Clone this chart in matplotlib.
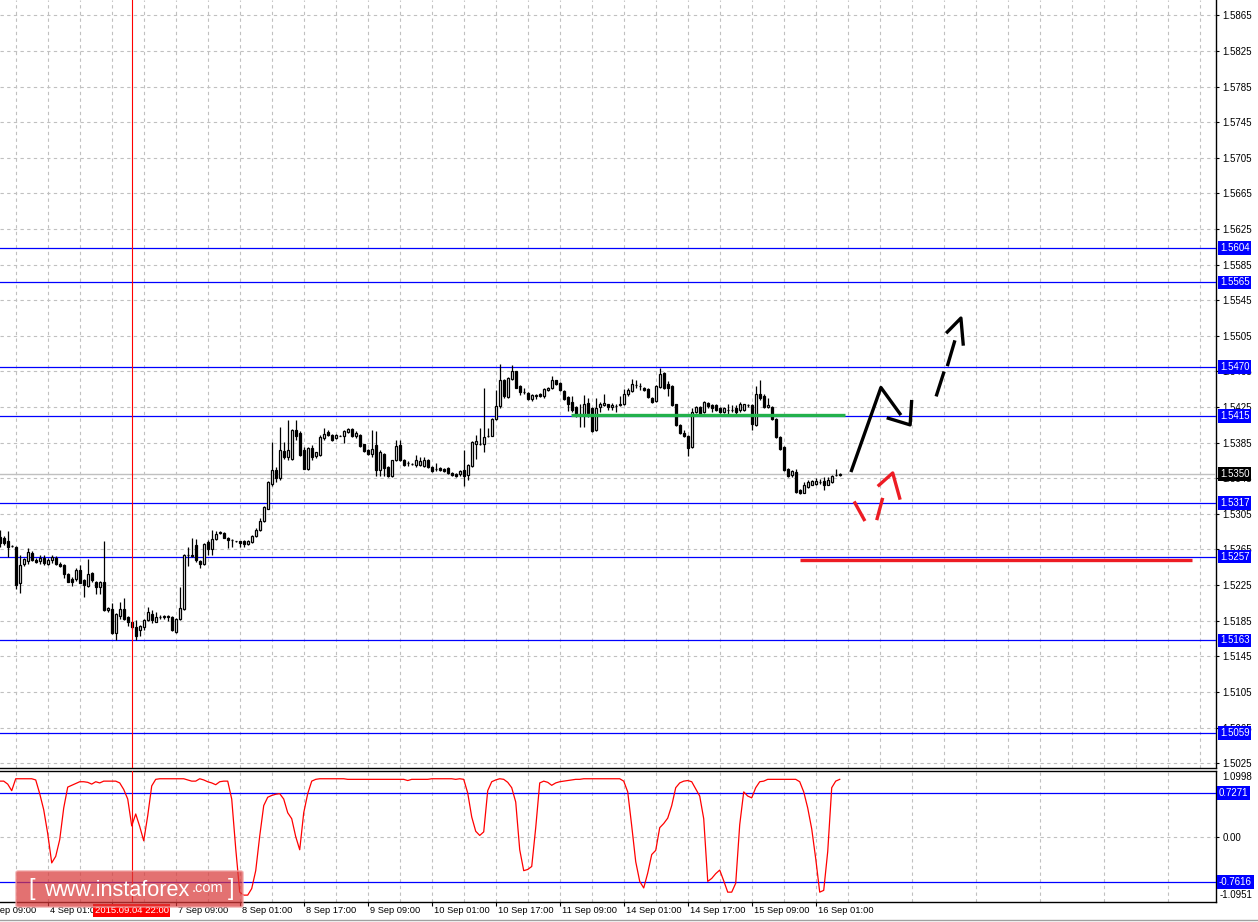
import matplotlib
matplotlib.use("Agg")
import matplotlib.pyplot as plt
from matplotlib.patches import FancyBboxPatch
import numpy as np

plt.rcParams['font.family'] = ['Liberation Sans', 'DejaVu Sans']

# ---------------- data (H1 bars, index 0 = 4 Sep 01:00) ----------------
FIRST_BAR = -12

opens = [
    1.5279, 1.5278, 1.5274, 1.5269, 1.5268, 1.5227, 1.5249, 1.5252, 1.5261, 1.5253,
    1.5252, 1.5255, 1.5249, 1.5253, 1.5256, 1.5249, 1.5248, 1.5238, 1.5232, 1.5232,
    1.5242, 1.5231, 1.5224, 1.5239, 1.5229, 1.5223, 1.5229, 1.5197, 1.5198, 1.5171,
    1.5190, 1.5198, 1.5189, 1.5184, 1.5178, 1.5175, 1.5178, 1.5186, 1.5193, 1.5184,
    1.5189, 1.5189, 1.5190, 1.5189, 1.5172, 1.5187, 1.5198, 1.5259, 1.5259, 1.5270,
    1.5252, 1.5249, 1.5273, 1.5265, 1.5277, 1.5283, 1.5284, 1.5278, 1.5276, 1.5274,
    1.5274, 1.5274, 1.5271, 1.5273, 1.5280, 1.5287, 1.5297, 1.5311, 1.5339, 1.5354,
    1.5345, 1.5376, 1.5369, 1.5367, 1.5399, 1.5396, 1.5377, 1.5356, 1.5379, 1.5370,
    1.5371, 1.5390, 1.5397, 1.5394, 1.5390, 1.5393, 1.5393, 1.5397, 1.5400, 1.5393,
    1.5394, 1.5383, 1.5377, 1.5372, 1.5382, 1.5354, 1.5372, 1.5358, 1.5348, 1.5366,
    1.5382, 1.5366, 1.5362, 1.5361, 1.5360, 1.5360, 1.5359, 1.5366, 1.5358, 1.5356,
    1.5357, 1.5356, 1.5357, 1.5351, 1.5350, 1.5350, 1.5354, 1.5349, 1.5359, 1.5384,
    1.5384, 1.5384, 1.5393, 1.5393, 1.5412, 1.5426, 1.5455, 1.5436, 1.5457, 1.5465,
    1.5449, 1.5442, 1.5441, 1.5434, 1.5437, 1.5440, 1.5437, 1.5444, 1.5446, 1.5455,
    1.5452, 1.5443, 1.5436, 1.5431, 1.5425, 1.5417, 1.5416, 1.5430, 1.5424, 1.5399,
    1.5425, 1.5427, 1.5428, 1.5425, 1.5426, 1.5427, 1.5428, 1.5440, 1.5443, 1.5450,
    1.5449, 1.5447, 1.5445, 1.5435, 1.5432, 1.5448, 1.5463, 1.5451, 1.5449, 1.5428,
    1.5405, 1.5396, 1.5393, 1.5380, 1.5419, 1.5425, 1.5419, 1.5430, 1.5427, 1.5427,
    1.5424, 1.5419, 1.5422, 1.5422, 1.5424, 1.5422, 1.5422, 1.5427, 1.5427, 1.5405,
    1.5440, 1.5437, 1.5425, 1.5425, 1.5412, 1.5391, 1.5380, 1.5356, 1.5349, 1.5352,
    1.5332, 1.5329, 1.5335, 1.5338, 1.5339, 1.5341, 1.5342, 1.5338, 1.5341, 1.5349,
    1.5349,
]
highs = [
    1.5287, 1.5280, 1.5286, 1.5270, 1.5269, 1.5259, 1.5256, 1.5267, 1.5263, 1.5256,
    1.5259, 1.5259, 1.5256, 1.5259, 1.5258, 1.5251, 1.5249, 1.5239, 1.5234, 1.5244,
    1.5248, 1.5232, 1.5254, 1.5240, 1.5230, 1.5230, 1.5274, 1.5200, 1.5205, 1.5194,
    1.5206, 1.5211, 1.5190, 1.5185, 1.5186, 1.5180, 1.5187, 1.5200, 1.5197, 1.5195,
    1.5191, 1.5191, 1.5191, 1.5190, 1.5188, 1.5223, 1.5260, 1.5268, 1.5278, 1.5277,
    1.5253, 1.5272, 1.5276, 1.5287, 1.5286, 1.5286, 1.5285, 1.5279, 1.5277, 1.5275,
    1.5275, 1.5276, 1.5276, 1.5281, 1.5289, 1.5300, 1.5314, 1.5342, 1.5386, 1.5358,
    1.5403, 1.5386, 1.5411, 1.5400, 1.5411, 1.5398, 1.5380, 1.5380, 1.5382, 1.5375,
    1.5394, 1.5401, 1.5399, 1.5395, 1.5395, 1.5394, 1.5399, 1.5401, 1.5401, 1.5398,
    1.5395, 1.5384, 1.5378, 1.5399, 1.5398, 1.5377, 1.5373, 1.5359, 1.5366, 1.5388,
    1.5388, 1.5367, 1.5364, 1.5362, 1.5371, 1.5369, 1.5369, 1.5367, 1.5359, 1.5362,
    1.5358, 1.5357, 1.5358, 1.5352, 1.5351, 1.5354, 1.5377, 1.5361, 1.5387, 1.5394,
    1.5401, 1.5446, 1.5401, 1.5413, 1.5444, 1.5473, 1.5457, 1.5459, 1.5472, 1.5466,
    1.5450, 1.5446, 1.5442, 1.5440, 1.5440, 1.5441, 1.5446, 1.5448, 1.5460, 1.5456,
    1.5453, 1.5444, 1.5437, 1.5437, 1.5426, 1.5429, 1.5439, 1.5435, 1.5425, 1.5435,
    1.5431, 1.5440, 1.5429, 1.5430, 1.5428, 1.5437, 1.5445, 1.5446, 1.5457, 1.5455,
    1.5452, 1.5448, 1.5446, 1.5436, 1.5450, 1.5469, 1.5464, 1.5454, 1.5450, 1.5429,
    1.5406, 1.5399, 1.5394, 1.5424, 1.5426, 1.5426, 1.5432, 1.5431, 1.5428, 1.5428,
    1.5425, 1.5425, 1.5429, 1.5427, 1.5427, 1.5431, 1.5429, 1.5429, 1.5428, 1.5449,
    1.5455, 1.5440, 1.5435, 1.5426, 1.5413, 1.5392, 1.5381, 1.5357, 1.5354, 1.5356,
    1.5333, 1.5341, 1.5343, 1.5343, 1.5345, 1.5344, 1.5347, 1.5347, 1.5349, 1.5356,
    1.5351,
]
lows = [
    1.5268, 1.5270, 1.5257, 1.5268, 1.5221, 1.5216, 1.5247, 1.5249, 1.5252, 1.5250,
    1.5249, 1.5248, 1.5248, 1.5250, 1.5248, 1.5245, 1.5233, 1.5228, 1.5224, 1.5230,
    1.5227, 1.5212, 1.5223, 1.5229, 1.5215, 1.5215, 1.5196, 1.5195, 1.5170, 1.5163,
    1.5187, 1.5186, 1.5179, 1.5176, 1.5163, 1.5168, 1.5174, 1.5185, 1.5182, 1.5183,
    1.5187, 1.5187, 1.5185, 1.5173, 1.5171, 1.5186, 1.5197, 1.5246, 1.5257, 1.5251,
    1.5244, 1.5248, 1.5259, 1.5259, 1.5276, 1.5282, 1.5278, 1.5267, 1.5268, 1.5273,
    1.5268, 1.5268, 1.5270, 1.5272, 1.5279, 1.5286, 1.5296, 1.5310, 1.5336, 1.5341,
    1.5343, 1.5367, 1.5366, 1.5366, 1.5388, 1.5370, 1.5355, 1.5354, 1.5365, 1.5368,
    1.5370, 1.5388, 1.5392, 1.5387, 1.5389, 1.5392, 1.5385, 1.5396, 1.5391, 1.5390,
    1.5380, 1.5375, 1.5371, 1.5369, 1.5348, 1.5348, 1.5348, 1.5347, 1.5347, 1.5364,
    1.5364, 1.5359, 1.5359, 1.5360, 1.5358, 1.5359, 1.5358, 1.5357, 1.5352, 1.5353,
    1.5353, 1.5352, 1.5350, 1.5348, 1.5347, 1.5348, 1.5336, 1.5343, 1.5358, 1.5367,
    1.5382, 1.5375, 1.5391, 1.5392, 1.5410, 1.5424, 1.5435, 1.5435, 1.5455, 1.5446,
    1.5439, 1.5440, 1.5433, 1.5432, 1.5434, 1.5436, 1.5435, 1.5443, 1.5445, 1.5450,
    1.5443, 1.5433, 1.5421, 1.5420, 1.5414, 1.5403, 1.5403, 1.5414, 1.5397, 1.5398,
    1.5419, 1.5426, 1.5422, 1.5422, 1.5420, 1.5426, 1.5427, 1.5438, 1.5442, 1.5447,
    1.5444, 1.5443, 1.5435, 1.5430, 1.5431, 1.5446, 1.5445, 1.5437, 1.5426, 1.5404,
    1.5395, 1.5391, 1.5370, 1.5379, 1.5418, 1.5416, 1.5418, 1.5424, 1.5419, 1.5421,
    1.5418, 1.5418, 1.5417, 1.5420, 1.5416, 1.5420, 1.5421, 1.5425, 1.5399, 1.5404,
    1.5433, 1.5424, 1.5424, 1.5410, 1.5390, 1.5377, 1.5353, 1.5347, 1.5347, 1.5329,
    1.5327, 1.5328, 1.5334, 1.5337, 1.5337, 1.5339, 1.5332, 1.5337, 1.5340, 1.5348,
    1.5348,
]
closes = [
    1.5272, 1.5272, 1.5268, 1.5269, 1.5225, 1.5248, 1.5254, 1.5262, 1.5253, 1.5251,
    1.5256, 1.5250, 1.5253, 1.5257, 1.5249, 1.5247, 1.5238, 1.5229, 1.5229, 1.5242,
    1.5227, 1.5225, 1.5237, 1.5231, 1.5223, 1.5229, 1.5197, 1.5199, 1.5171, 1.5193,
    1.5198, 1.5187, 1.5183, 1.5178, 1.5168, 1.5179, 1.5186, 1.5195, 1.5186, 1.5189,
    1.5189, 1.5190, 1.5189, 1.5174, 1.5187, 1.5199, 1.5259, 1.5259, 1.5258, 1.5253,
    1.5249, 1.5271, 1.5266, 1.5277, 1.5282, 1.5285, 1.5278, 1.5276, 1.5276, 1.5274,
    1.5272, 1.5271, 1.5275, 1.5280, 1.5287, 1.5297, 1.5313, 1.5341, 1.5354, 1.5345,
    1.5377, 1.5369, 1.5377, 1.5399, 1.5392, 1.5371, 1.5356, 1.5379, 1.5369, 1.5374,
    1.5391, 1.5395, 1.5394, 1.5388, 1.5394, 1.5393, 1.5398, 1.5400, 1.5393, 1.5396,
    1.5381, 1.5376, 1.5372, 1.5378, 1.5354, 1.5374, 1.5357, 1.5348, 1.5365, 1.5381,
    1.5365, 1.5360, 1.5362, 1.5361, 1.5366, 1.5364, 1.5366, 1.5358, 1.5353, 1.5356,
    1.5354, 1.5353, 1.5351, 1.5349, 1.5348, 1.5353, 1.5348, 1.5360, 1.5386, 1.5387,
    1.5384, 1.5391, 1.5393, 1.5412, 1.5426, 1.5455, 1.5437, 1.5458, 1.5465, 1.5447,
    1.5442, 1.5442, 1.5434, 1.5439, 1.5439, 1.5437, 1.5445, 1.5447, 1.5456, 1.5451,
    1.5444, 1.5434, 1.5429, 1.5422, 1.5416, 1.5416, 1.5428, 1.5418, 1.5398, 1.5424,
    1.5428, 1.5430, 1.5425, 1.5427, 1.5426, 1.5429, 1.5440, 1.5444, 1.5451, 1.5450,
    1.5449, 1.5444, 1.5436, 1.5431, 1.5449, 1.5462, 1.5446, 1.5447, 1.5427, 1.5405,
    1.5396, 1.5393, 1.5379, 1.5420, 1.5425, 1.5417, 1.5431, 1.5426, 1.5424, 1.5422,
    1.5419, 1.5424, 1.5422, 1.5422, 1.5419, 1.5429, 1.5428, 1.5427, 1.5406, 1.5440,
    1.5435, 1.5425, 1.5427, 1.5412, 1.5391, 1.5378, 1.5354, 1.5348, 1.5353, 1.5330,
    1.5328, 1.5337, 1.5341, 1.5342, 1.5342, 1.5341, 1.5338, 1.5343, 1.5348, 1.5349,
    1.5350,
]
oscillator = [
    0.93, 0.93, 0.88, 0.77, 0.97, 0.97, 0.97, 0.97, 0.97, 0.95,
    0.72, 0.45, 0.05, -0.44, -0.33, -0.05, 0.48, 0.83, 0.86, 0.89,
    0.92, 0.92, 0.91, 0.88, 0.92, 0.90, 0.93, 0.93, 0.93, 0.93,
    0.90, 0.79, 0.63, 0.18, 0.38, 0.17, -0.07, 0.35, 0.85, 0.96,
    0.97, 0.97, 0.97, 0.97, 0.97, 0.97, 0.97, 0.95, 0.93, 0.93,
    0.97, 0.95, 0.92, 0.90, 0.87, 0.92, 0.93, 0.93, 0.63, -0.20,
    -0.93, -0.98, -0.98, -0.87, -0.57, 0.01, 0.52, 0.66, 0.69, 0.71,
    0.72, 0.63, 0.40, 0.30, 0.00, -0.22, 0.40, 0.72, 0.93, 0.96,
    0.97, 0.97, 0.97, 0.97, 0.97, 0.97, 0.97, 0.96, 0.96, 0.96,
    0.96, 0.96, 0.96, 0.96, 0.96, 0.96, 0.96, 0.96, 0.96, 0.96,
    0.96, 0.96, 0.94, 0.96, 0.96, 0.96, 0.96, 0.96, 0.97, 0.97,
    0.97, 0.97, 0.97, 0.97, 0.96, 0.97, 0.96, 0.73, 0.33, 0.09,
    0.02, 0.08, 0.77, 0.92, 0.95, 0.97, 0.96, 0.91, 0.82, 0.58,
    -0.22, -0.57, -0.55, -0.50, 0.15, 0.90, 0.93, 0.91, 0.86, 0.90,
    0.92, 0.93, 0.94, 0.95, 0.96, 0.96, 0.97, 0.97, 0.97, 0.97,
    0.97, 0.97, 0.97, 0.97, 0.97, 0.97, 0.93, 0.75, 0.18, -0.42,
    -0.75, -0.86, -0.61, -0.30, -0.23, 0.15, 0.22, 0.31, 0.52, 0.82,
    0.90, 0.93, 0.94, 0.92, 0.80, 0.68, 0.30, -0.75, -0.70, -0.62,
    -0.56, -0.74, -0.93, -0.93, -0.78, 0.20, 0.75, 0.68, 0.65, 0.82,
    0.92, 0.93, 0.96, 0.96, 0.96, 0.96, 0.96, 0.96, 0.96, 0.96,
    0.92, 0.75, 0.48, 0.13, -0.37, -0.93, -0.90, -0.25, 0.82, 0.93,
    0.96,
]

price_ticks = [round(1.5025 + 0.004 * k, 4) for k in range(22)]
level_prices = [1.5604, 1.5565, 1.5470, 1.5415, 1.5317, 1.5257, 1.5163, 1.5059]
bid_price = 1.5350
osc_levels = [0.7271, -0.7616]
osc_max, osc_min = 1.0998, -1.0951

time_tick_bars = [-16, 0, 16, 32, 48, 64, 80, 96, 112, 128, 144, 160, 176, 192]
time_tick_labels = ["3 Sep 09:00", "4 Sep 01:00", "", "7 Sep 09:00",
                    "8 Sep 01:00", "8 Sep 17:00", "9 Sep 09:00", "10 Sep 01:00",
                    "10 Sep 17:00", "11 Sep 09:00", "14 Sep 01:00", "14 Sep 17:00",
                    "15 Sep 09:00", "16 Sep 01:00"]
crosshair_bar = 21
crosshair_label = "2015.09.04 22:00"

# hand-drawn annotations (bar index, price)
green_line_x = [130.8, 199.3]
green_line_y = [1.5416, 1.5416]
red_line_x = [188.0, 286.0]
red_line_y = [1.5253, 1.5253]
black_up_x = [200.8, 208.3, 213.3]
black_up_y = [1.5352, 1.5447, 1.5416]
black_hook_x = [209.75, 215.6, 216.0]
black_hook_y = [1.5413, 1.5405, 1.5433]
black_dash1_x = [222.1, 224.1]
black_dash1_y = [1.5437, 1.5465]
black_dash2_x = [224.9, 226.8]
black_dash2_y = [1.5471, 1.5500]
black_head_x = [224.6, 228.3, 228.9]
black_head_y = [1.5508, 1.5525, 1.5494]
red_dash1_x = [201.6, 204.3]
red_dash1_y = [1.5319, 1.5297]
red_dash2_x = [207.25, 208.75]
red_dash2_y = [1.5298, 1.5323]
red_head_x = [207.5, 211.25, 213.1]
red_head_y = [1.5336, 1.5351, 1.5321]

# ---------------- figure ----------------
W, H = 1258, 922
fig = plt.figure(figsize=(W / 100, H / 100), dpi=100)
fig.patch.set_facecolor('white')

XL = (-11.93, -11.93 + 1216 / 4.0)
GRID = '#C0C0C0'
DASH = (0, (3, 3))
BLUE = '#0000FF'

ax = fig.add_axes([0, 154 / H, 1216 / W, 768 / H])

x = np.arange(FIRST_BAR, FIRST_BAR + len(opens))
o = np.array(opens); hi = np.array(highs); lo = np.array(lows); c = np.array(closes)
top = np.maximum.reduce([hi, o, c]); bot = np.minimum.reduce([lo, o, c])
body_col = ['white' if cc > oo else 'black' for oo, cc in zip(o, c)]

ax.vlines(x, bot, top, color='black', lw=0.9, zorder=4)
ax.bar(x, c - o, bottom=o, width=0.6, color=body_col, edgecolor='black',
       linewidth=0.9, zorder=5)

for p in level_prices:
    ax.axhline(p, color=BLUE, lw=0.9, zorder=3)
ax.axhline(bid_price, color='#C0C0C0', lw=1.0, zorder=3)
ax.axvline(crosshair_bar, color='#FF0000', lw=0.8, zorder=6)

ax.plot(green_line_x, green_line_y, color='#22B14C', lw=2.4, solid_capstyle='butt', zorder=6)
ax.plot(red_line_x, red_line_y, color='#ED1C24', lw=2.4, solid_capstyle='butt', zorder=6)
for xs, ys in [(black_up_x, black_up_y), (black_hook_x, black_hook_y),
               (black_dash1_x, black_dash1_y), (black_dash2_x, black_dash2_y),
               (black_head_x, black_head_y)]:
    ax.plot(xs, ys, color='black', lw=2.4, solid_capstyle='butt', zorder=7)
for xs, ys in [(red_dash1_x, red_dash1_y), (red_dash2_x, red_dash2_y),
               (red_head_x, red_head_y)]:
    ax.plot(xs, ys, color='#ED1C24', lw=2.4, solid_capstyle='butt', zorder=7)

ax.set_xticks(np.arange(0, 300, 16))
ax.set_xticks(np.arange(-8, 300, 16), minor=True)
ax.tick_params(axis='x', which='both', length=0, labelbottom=False)
ax.yaxis.tick_right()
ax.set_yticks(price_ticks)
ax.set_yticklabels([f'{p:.4f}' for p in price_ticks])
ax.tick_params(axis='y', which='both', direction='out', length=2.5, width=0.8,
               pad=2, labelsize=7, colors='black')
ax.grid(True, which='both', color=GRID, linestyle=DASH, lw=0.8, zorder=0)
ax.set_axisbelow(True)
ax.set_xlim(*XL)
ax.set_ylim(1.50195, 1.58824)
for s in ['top', 'left']:
    ax.spines[s].set_visible(False)
for s in ['right', 'bottom']:
    ax.spines[s].set_color('black'); ax.spines[s].set_linewidth(1.0)


def right_label(axis, val, text, fc, dx=4):
    axis.annotate(text, xy=(1.0, val), xycoords=('axes fraction', 'data'),
                  xytext=(dx, 0), textcoords='offset pixels', ha='left', va='center',
                  fontsize=7, color='white', annotation_clip=False, zorder=20,
                  bbox=dict(boxstyle='square,pad=0.18', fc=fc, ec='none'))


for p in level_prices:
    right_label(ax, p, f'{p:.4f}', BLUE)
right_label(ax, bid_price, f'{bid_price:.4f}', 'black')

# ---------------- oscillator panel ----------------
ax2 = fig.add_axes([0, 20 / H, 1216 / W, 131 / H])
ax2.plot(x, oscillator, color='#FF0000', lw=0.9, zorder=4)
for v in osc_levels:
    ax2.axhline(v, color=BLUE, lw=0.9, zorder=3)
ax2.axvline(crosshair_bar, color='#FF0000', lw=0.8, zorder=6)
ax2.set_xticks(time_tick_bars)
ax2.set_xticks(np.arange(-8, 300, 16), minor=True)
ax2.tick_params(axis='x', which='major', direction='out', length=3, width=0.8,
                labelbottom=False)
ax2.tick_params(axis='x', which='minor', length=0)
ax2.yaxis.tick_right()
ax2.set_yticks([0.0])
ax2.set_yticklabels(['0.00'])
ax2.tick_params(axis='y', direction='out', length=2.5, width=0.8, pad=2,
                labelsize=7, colors='black')
ax2.grid(True, which='both', color=GRID, linestyle=DASH, lw=0.8, zorder=0)
ax2.set_axisbelow(True)
ax2.set_xlim(*XL)
ax2.set_ylim(osc_min, osc_max)
ax2.spines['left'].set_visible(False)
for s in ['top', 'right', 'bottom']:
    ax2.spines[s].set_color('black'); ax2.spines[s].set_linewidth(1.0)

for v in osc_levels:
    right_label(ax2, v, f'{v:.4f}', BLUE, dx=3)
ax2.annotate(f'{osc_max:.4f}', xy=(1.0, 1.0), xycoords='axes fraction',
             xytext=(6, -6), textcoords='offset pixels', ha='left', va='center',
             fontsize=7, color='black', annotation_clip=False)
ax2.annotate(f'{osc_min:.4f}', xy=(1.0, 0.0), xycoords='axes fraction',
             xytext=(4, 7), textcoords='offset pixels', ha='left', va='center',
             fontsize=7, color='black', annotation_clip=False)

for b, lab in zip(time_tick_bars, time_tick_labels):
    if not lab:
        continue
    ax2.annotate(lab, xy=(b, 0), xycoords=('data', 'axes fraction'),
                 xytext=(2, -4), textcoords='offset pixels', ha='left', va='top',
                 fontsize=6.7, color='black', annotation_clip=False, zorder=5)
ax2.annotate(crosshair_label, xy=(crosshair_bar, 0), xycoords=('data', 'axes fraction'),
             xytext=(0, -4), textcoords='offset pixels', ha='center', va='top',
             fontsize=6.8, color='white', annotation_clip=False, zorder=30,
             bbox=dict(boxstyle='square,pad=0.18', fc='#FF0000', ec='none'))

# bottom border
fig.add_artist(plt.Line2D([0, 1], [1 - 920 / H, 1 - 920 / H], color='#A0A0A0', lw=1.0))

# ---------------- watermark ----------------
wm = FancyBboxPatch((16 / W, 1 - 907 / H), 227 / W, 36 / H,
                    boxstyle='round,pad=0,rounding_size=0.002',
                    transform=fig.transFigure, fc='#D93A3A', ec='#F0A0A0',
                    lw=1.2, alpha=0.72, zorder=50)
fig.add_artist(wm)
yc = 1 - 889 / H
fig.text(28 / W, yc, '[', fontsize=17, color='white', ha='left', va='center',
         zorder=60)
fig.text(44 / W, yc - 1 / H, 'www.instaforex', fontsize=15.6, color='white',
         ha='left', va='center', zorder=60)
fig.text(192 / W, yc + 1 / H, '.com', fontsize=10.5, color='white', ha='left',
         va='center', zorder=60)
fig.text(228 / W, yc, ']', fontsize=17, color='white', ha='left', va='center',
         zorder=60)

fig.savefig('out.png', dpi=100, facecolor='white')
